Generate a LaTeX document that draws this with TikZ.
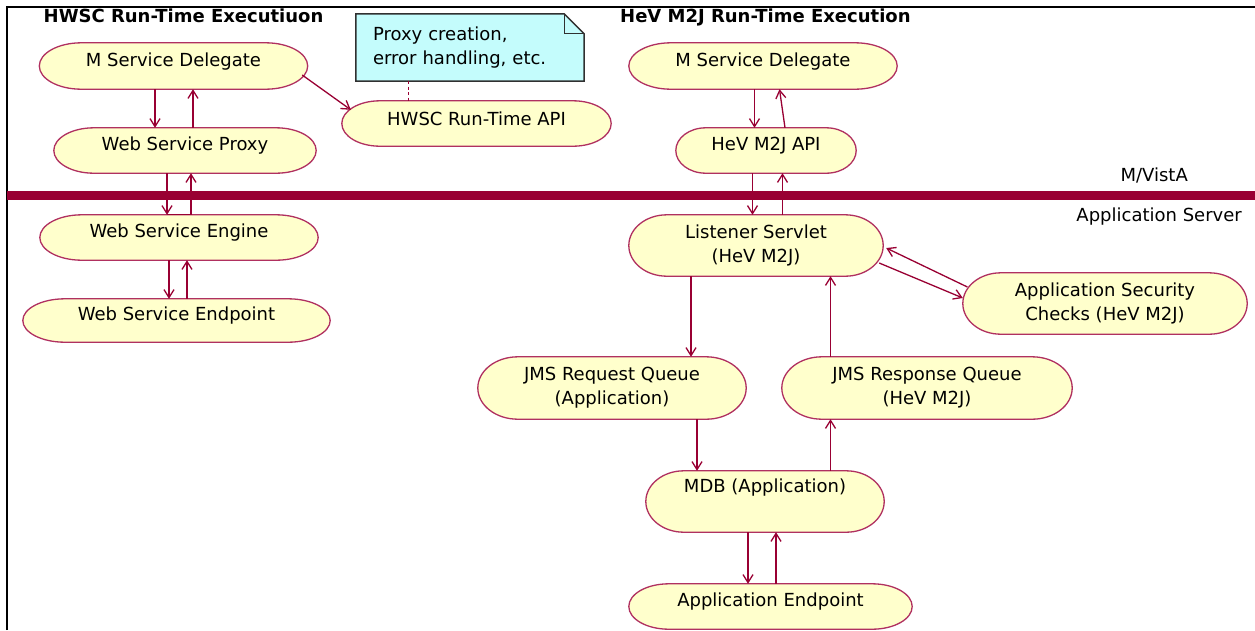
\documentclass[tikz,border=0pt]{standalone}
\usepackage{fontspec}
\setmainfont{DejaVu Sans}
\usetikzlibrary{arrows.meta,calc,backgrounds}
\definecolor{nodeline}{HTML}{B03060}
\definecolor{arrowc}{HTML}{990033}
\definecolor{nodefill}{HTML}{FFFFCC}
\definecolor{notefill}{HTML}{C4FCFC}
\definecolor{noteline}{HTML}{303030}
\newcommand\stad[2]{%
  \begin{pgfonlayer}{background}
  \filldraw[stadline] let \p1=(#1.north east), \p2=(#1.south west), \n1={(\y1-\y2)/2} in
    (\x2+#2pt,\y1) -- (\x1-#2pt,\y1)
    arc[start angle=90,end angle=-90,x radius=#2pt,y radius=\n1]
    -- (\x2+#2pt,\y2)
    arc[start angle=270,end angle=90,x radius=#2pt,y radius=\n1] -- cycle;
  \end{pgfonlayer}}
\begin{document}
\begin{tikzpicture}[x=1pt,y=-1pt,
  font=\fontsize{18}{24}\selectfont,
  state/.style={inner sep=0pt, anchor=center},
  one/.style={state, text height=13.5pt, text depth=13.5pt},
  two/.style={state, align=center},
  stadline/.style={draw=nodeline, fill=nodefill, line width=1.3pt},
  conn/.style={draw=arrowc, line width=1.3pt, -{Straight Barb[length=8pt,width=10pt]}},
  ttl/.style={anchor=base west, inner sep=0pt, font=\fontsize{18}{24}\selectfont\bfseries},
  lbl/.style={anchor=base east, inner sep=0pt},
  notebox/.style={inner xsep=17pt, inner ysep=0pt, text width=194pt, align=left, minimum height=67pt},
  dotc/.style={draw=arrowc, line width=1.3pt, dash pattern=on 3pt off 2.5pt}]
\useasboundingbox (0,0) rectangle (1255,630);
\begin{pgfonlayer}{background}
\fill[white] (0,0) rectangle (1255,630);
\end{pgfonlayer}
% frame and separator
\draw[black, line width=1.6pt] (7,630) -- (7,7) -- (1255,7);
\fill[arrowc] (7,190.5) rectangle (1255,199.5);
% titles and labels
\node[ttl] (t1) at (43.5,22.5) {HWSC Run-Time Executiuon};
\node[ttl] (t2) at (620,22.5) {HeV M2J Run-Time Execution};
\node[lbl] (mv) at (1188,181) {M/VistA};
\node[lbl] (as) at (1242,221.5) {Application Server};
% nodes
\node[one, minimum width=268pt, minimum height=46pt] (msdL) at (173.5,66) {M Service Delegate};
\node[one, minimum width=262pt, minimum height=45pt] (wsp) at (185,150.5) {Web Service Proxy};
\node[one, minimum width=278pt, minimum height=45pt] (wse) at (179,237.5) {Web Service Engine};
\node[one, minimum width=307pt, minimum height=43pt] (wsep) at (176.5,320.5) {Web Service Endpoint};
\node[one, text depth=9pt, minimum width=269pt, minimum height=45pt] (api) at (476.5,123.5) {HWSC Run-Time API};
\node[notebox] (note) at (470,47.5) {Proxy creation,\\error handling, etc.};
\node[one, minimum width=268pt, minimum height=46pt] (msdR) at (763,66) {M Service Delegate};
\node[one, minimum width=180pt, minimum height=45pt] (m2j) at (766,150.5) {HeV M2J API};
\node[two, minimum width=254pt, minimum height=61pt] (ls) at (756,245.5) {Listener Servlet\\(HeV M2J)};
\node[two, minimum width=284pt, minimum height=61pt] (asc) at (1105,303.5) {Application Security\\Checks (HeV M2J)};
\node[two, minimum width=268pt, minimum height=62pt] (jreq) at (612,388) {JMS Request Queue\\(Application)};
\node[two, minimum width=290pt, minimum height=62pt] (jresp) at (927,388) {JMS Response Queue\\(HeV M2J)};
\node[one, text depth=31pt, minimum width=238pt, minimum height=61pt] (mdb) at (765,501.5) {MDB (Application)};
\node[one, minimum width=283pt, minimum height=45pt] (ae) at (770.5,606.5) {Application Endpoint};
% shapes
\stad{msdL}{42}
\stad{wsp}{40}
\stad{wse}{42}
\stad{wsep}{42}
\stad{api}{38}
\stad{msdR}{42}
\stad{m2j}{30}
\stad{ls}{38}
\stad{asc}{38}
\stad{jreq}{40}
\stad{jresp}{40}
\stad{mdb}{38}
\stad{ae}{40}
% note outline
\begin{pgfonlayer}{background}
\filldraw[draw=noteline, fill=notefill, line width=1.5pt] (note.north west) -- ($(note.north east)+(-20,0)$) -- ($(note.north east)+(0,20)$) -- (note.south east) -- (note.south west) -- cycle;
\end{pgfonlayer}
\draw[noteline, line width=1.3pt] ($(note.north east)+(-20,0)$) -- ($(note.north east)+(-20,20)$) -- ($(note.north east)+(0,20)$);
\coordinate (nd) at ($(note.south west)+(53,0)$);
\draw[dotc] (nd) -- (nd |- api.north);
% x positions of vertical connectors
\coordinate (x155) at (155,0);
\coordinate (x193) at (193,0);
\coordinate (x167) at (167,0);
\coordinate (x191) at (191,0);
\coordinate (x169) at (169,0);
\coordinate (x187) at (187,0);
\coordinate (x754) at (754.5,0);
\coordinate (x785) at (785,0);
\coordinate (x780) at (779.5,0);
\coordinate (x752) at (752.5,0);
\coordinate (x782) at (782.5,0);
\coordinate (x691) at (691,0);
\coordinate (x830) at (830.5,0);
\coordinate (x697) at (697,0);
\coordinate (x748) at (748,0);
\coordinate (x776) at (776,0);
% connectors left
\draw[conn] (msdL.south -| x155) -- (wsp.north -| x155);
\draw[conn] (wsp.north -| x193) -- (msdL.south -| x193);
\draw[conn] (wsp.south -| x167) -- (wse.north -| x167);
\draw[conn] (wse.north -| x167) -- (wse.north -| x191) -- (wsp.south -| x191);
\draw[conn] (wse.south -| x169) -- (wsep.north -| x169);
\draw[conn] (wsep.north -| x187) -- (wse.south -| x187);
\draw[conn] ($(msdL.east)+(-5.5,9)$) -- ($(api.north west)+(9,9)$);
% connectors right
\draw[conn] (msdR.south -| x754) -- (m2j.north -| x754);
\draw[conn] (m2j.north -| x785) -- (msdR.south -| x780);
\draw[conn] (m2j.south -| x752) -- (ls.north -| x752);
\draw[conn] (ls.north -| x782) -- (m2j.south -| x782);
\draw[conn] ($(ls.east)+(-4,17.5)$) -- ($(asc.west)+(0,-5.5)$);
\draw[conn] ($(asc.west)+(4.6,-16.5)$) -- ($(ls.east)+(3,2.5)$);
\draw[conn] (ls.south -| x691) -- (jreq.north -| x691);
\draw[conn] (jresp.north -| x830) -- (ls.south -| x830);
\draw[conn] (jreq.south -| x697) -- (mdb.north -| x697);
\draw[conn] (mdb.north -| x830) -- (jresp.south -| x830);
\draw[conn] (mdb.south -| x748) -- (ae.north -| x748);
\draw[conn] (ae.north -| x776) -- (mdb.south -| x776);
\end{tikzpicture}
\end{document}
